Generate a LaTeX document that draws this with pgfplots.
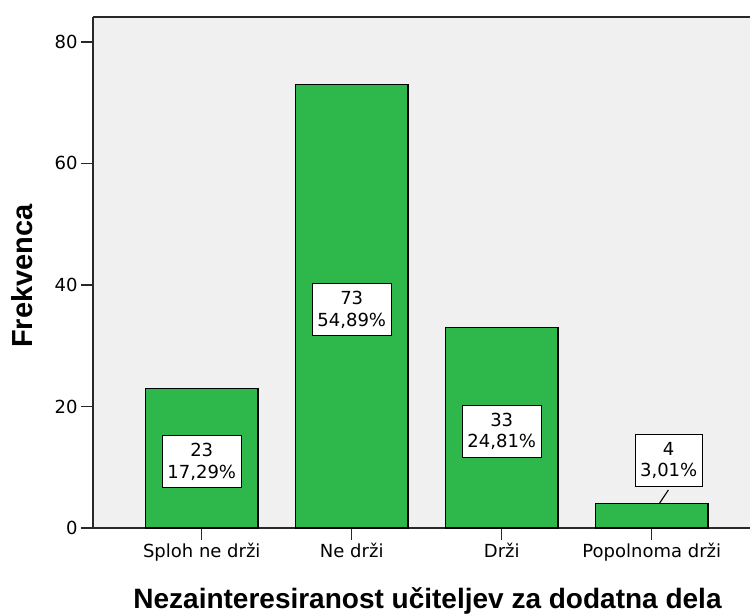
\documentclass[border=0pt]{standalone}
\usepackage{pgfplots}
\pgfplotsset{compat=1.18}
\usepackage{fontspec}
\setmainfont{Liberation Sans}
\newfontfamily\dejavu{DejaVu Sans}
\definecolor{barGreen}{RGB}{46,184,76}
\definecolor{bgGray}{RGB}{240,240,240}
\definecolor{axGray}{RGB}{40,40,40}
\begin{document}
\begin{tikzpicture}
\begin{axis}[
  at={(0,0)}, anchor=south west,
  scale only axis, width=657pt, height=511pt,
  xmin=-0.725, xmax=3.655, ymin=0, ymax=84.1,
  axis x line*=bottom, axis y line*=left,
  axis line style={draw=axGray, line width=1.3pt},
  axis background/.style={fill=bgGray},
  clip=false,
  xtick={0,1,2,3},
  xticklabels={Sploh ne drži, Ne drži, Drži, Popolnoma drži},
  ytick={0,20,40,60,80},
  tick align=outside, major tick length=12pt,
  tick style={draw=axGray, line width=1.3pt},
  tick label style={font=\dejavu\fontsize{18}{21}\selectfont},
  /pgf/number format/assume math mode=true,
]
\addplot[ybar, bar width=0.75, fill=barGreen, draw=black, line width=1.2pt]
  coordinates {(0,23) (1,73) (2,33) (3,4)};
\addplot[draw=none, mark=none, nodes near coords, point meta=explicit symbolic,
  every node near coord/.append style={anchor=center, draw=black, fill=white,
    line width=1.1pt, align=center, inner xsep=5pt, inner ysep=7.5pt,
    font=\dejavu\fontsize{18}{21.7}\selectfont, text=black}]
  coordinates {(0,10.9) [{23\\17,29\%}] (1,35.9) [{73\\54,89\%}] (2,15.9) [{33\\24,81\%}] (3.113,11.1) [{4\\3,01\%}]};
\draw[black, line width=1.1pt] (axis cs:3.051,4.05) -- (axis cs:3.111,6.26);
\draw[axGray, line width=1.3pt] (rel axis cs:0,1) -- (rel axis cs:1,1);
\end{axis}
\node[rotate=90, anchor=base, font=\fontsize{29}{32}\selectfont\bfseries] at (-60pt,252pt) {Frekvenca};
\node[anchor=base, font=\fontsize{28}{32}\selectfont\bfseries] at (334.5pt,-80pt) {Nezainteresiranost učiteljev za dodatna dela};
\pgfresetboundingbox
\useasboundingbox (-93pt,-86pt) rectangle (657pt,528pt);
\end{tikzpicture}
\end{document}
